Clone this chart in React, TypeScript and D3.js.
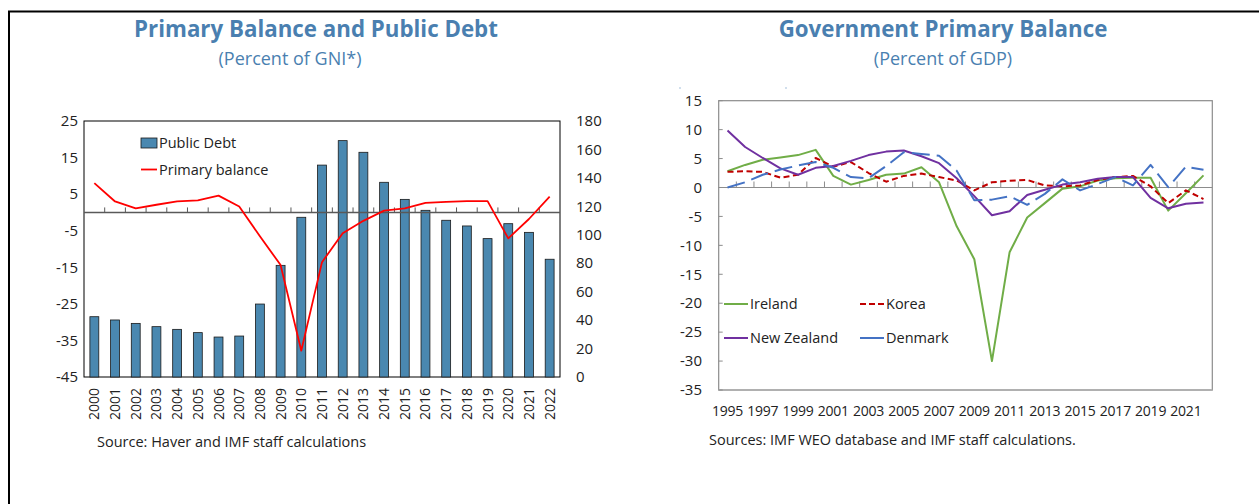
import React from "react";
import * as d3 from "d3";

const leftYears = ["2000","2001","2002","2003","2004","2005","2006","2007","2008","2009","2010","2011","2012","2013","2014","2015","2016","2017","2018","2019","2020","2021","2022"];
const publicDebt = [42.4, 40.1, 37.7, 35.4, 33.5, 31.2, 28.1, 28.8, 51.3, 78.5, 112.3, 149, 166.2, 158, 136.9, 124.9, 117.2, 110.2, 106.2, 97.3, 107.8, 101.7, 82.8];
const primaryBalance = [8.0, 3.0, 1.1, 2.1, 3.0, 3.3, 4.6, 1.6, -6.5, -14.4, -37.8, -13.6, -5.7, -2.3, 0.5, 1.1, 2.6, 2.9, 3.1, 3.1, -7.1, -1.8, 4.3];
const leftTicks = [25, 15, 5, -5, -15, -25, -35, -45];
const rightTicks = [180, 160, 140, 120, 100, 80, 60, 40, 20, 0];

const rightYears = ["1995","1996","1997","1998","1999","2000","2001","2002","2003","2004","2005","2006","2007","2008","2009","2010","2011","2012","2013","2014","2015","2016","2017","2018","2019","2020","2021","2022"];
const ireland = [2.8, 3.9, 4.8, 5.2, 5.6, 6.5, 2.0, 0.5, 1.3, 2.2, 2.4, 3.5, 0.9, -6.7, -12.4, -30.0, -11.2, -5.2, -2.7, -0.2, 0.2, 1.2, 1.6, 1.7, 1.7, -4.0, -1.0, 2.1];
const korea = [2.7, 2.8, 2.7, 1.7, 2.2, 5.1, 3.6, 4.4, 2.5, 1.0, 2.0, 2.4, 1.8, 1.2, -0.5, 0.9, 1.15, 1.3, 0.35, 0.2, 0.35, 1.3, 1.8, 2.0, 0.2, -2.7, -0.5, -2.0];
const newZealand = [9.85, 7.0, 5.1, 3.3, 2.2, 3.4, 3.7, 4.6, 5.6, 6.2, 6.4, 5.4, 4.2, 1.6, -1.5, -4.8, -4.1, -1.3, -0.4, 0.5, 0.9, 1.5, 1.8, 1.8, -1.8, -3.6, -2.8, -2.6];
const denmark = [0, 0.9, 2.2, 3.1, 3.8, 4.4, 3.4, 1.8, 1.6, 3.7, 6.1, 5.8, 5.5, 2.9, -2.2, -2.1, -1.5, -3.0, -1.1, 1.4, -0.5, 0.6, 1.8, 0.35, 3.9, 0.05, 3.6, 3.05];
const gdpTicks = [15, 10, 5, 0, -5, -10, -15, -20, -25, -30, -35];

const FONT = "'Open Sans', 'Noto Sans', sans-serif";
const TITLE_COLOR = "#4A7FB0";
const BAR_COLOR = "#4A88B0";

export default function App() {
  const L = { x0: 84, x1: 560, y0: 121, y1: 377 };
  const xL = d3.scaleBand().domain(leftYears).range([L.x0, L.x1]).paddingInner(0.57).paddingOuter(0.285);
  const xLc = (y: string) => (xL(y) as number) + xL.bandwidth() / 2;
  const xLbands = d3.scaleBand().domain(leftYears).range([L.x0, L.x1]);
  const yL = d3.scaleLinear().domain([-45, 25]).range([L.y1, L.y0]);
  const yR = d3.scaleLinear().domain([0, 180]).range([L.y1, L.y0]);
  const pbLine = d3.line<number>().x((_, i) => xLc(leftYears[i])).y((d) => yL(d));

  const R = { x0: 718.7, x1: 1212.3, y0: 100.7, y1: 390 };
  const xG = d3.scaleBand().domain(rightYears).range([R.x0, R.x1]);
  const xGc = (y: string) => (xG(y) as number) + xG.bandwidth() / 2;
  const yG = d3.scaleLinear().domain([-35, 15]).range([R.y1, R.y0]);
  const gLine = d3.line<number>().x((_, i) => xGc(rightYears[i])).y((d) => yG(d));

  const series = [
    { name: "Ireland", data: ireland, color: "#70AD47", dash: "none", legendDash: "none" },
    { name: "Korea", data: korea, color: "#C00000", dash: "6,3.5", legendDash: "6,3" },
    { name: "New Zealand", data: newZealand, color: "#7030A0", dash: "none", legendDash: "none" },
    { name: "Denmark", data: denmark, color: "#4472C4", dash: "18,7", legendDash: "none" },
  ];
  const legendPos = [
    { x: 724, y: 304 },
    { x: 860, y: 304 },
    { x: 724, y: 338 },
    { x: 860, y: 338 },
  ];

  return (
    <svg width={1259} height={504} style={{ position: "absolute", left: 0, top: 0, background: "#fff" }} fontFamily={FONT}>
      <rect x={0} y={0} width={1259} height={504} fill="#fff" />
      <rect x={9} y={11.5} width={1400} height={700} fill="none" stroke="#000" strokeWidth={2} />

      {/* ===== Left chart ===== */}
      <text x={316} y={37} textAnchor="middle" fontSize={22.3} fontWeight={700} fill={TITLE_COLOR}>Primary Balance and Public Debt</text>
      <text x={290} y={65} textAnchor="middle" fontSize={18} fill={TITLE_COLOR}>(Percent of GNI*)</text>

      <rect x={L.x0} y={L.y0} width={L.x1 - L.x0} height={L.y1 - L.y0} fill="none" stroke="#000" strokeWidth={1} />
      {leftYears.map((yr, i) => (
        <rect key={yr} x={xL(yr)} y={yR(publicDebt[i])} width={xL.bandwidth()} height={yR(0) - yR(publicDebt[i])} fill={BAR_COLOR} stroke="#1a1a1a" strokeWidth={0.8} />
      ))}
      <line x1={L.x0} x2={L.x1} y1={yL(0)} y2={yL(0)} stroke="#595959" strokeWidth={1.5} />
      {leftYears.slice(1).map((yr) => (
        <line key={"t" + yr} x1={xLbands(yr)} x2={xLbands(yr)} y1={yL(0)} y2={yL(0) - 5} stroke="#595959" strokeWidth={1} />
      ))}
      <path d={pbLine(primaryBalance) || ""} fill="none" stroke="#FF0000" strokeWidth={1.8} strokeLinejoin="round" />

      {leftTicks.map((t) => (
        <text key={"l" + t} x={78} y={yL(t)} dy="0.35em" textAnchor="end" fontSize={15} fill="#222">{t}</text>
      ))}
      {rightTicks.map((t) => (
        <text key={"r" + t} x={576} y={yR(t)} dy="0.35em" textAnchor="start" fontSize={15} fill="#222">{t}</text>
      ))}
      {leftYears.map((yr) => (
        <text key={"x" + yr} transform={`translate(${xLc(yr) + 5},${388}) rotate(-90)`} textAnchor="end" fontSize={14} fill="#222">{yr}</text>
      ))}

      <rect x={141} y={138} width={16} height={10} fill={BAR_COLOR} stroke="#1a1a1a" strokeWidth={0.8} />
      <text x={159} y={143} dy="0.35em" fontSize={14.5} fill="#222">Public Debt</text>
      <line x1={141} x2={157} y1={169.5} y2={169.5} stroke="#FF0000" strokeWidth={1.8} />
      <text x={159} y={169.5} dy="0.35em" fontSize={14.5} fill="#222">Primary balance</text>

      <text x={97} y={447} fontSize={14.5} fill="#222">Source: Haver and IMF staff calculations</text>

      {/* ===== Right chart ===== */}
      <text x={943} y={37} textAnchor="middle" fontSize={22.3} fontWeight={700} fill={TITLE_COLOR}>Government Primary Balance</text>
      <text x={943} y={65} textAnchor="middle" fontSize={18} fill={TITLE_COLOR}>(Percent of GDP)</text>
      <circle cx={680} cy={88} r={0.7} fill="#7fa6cc" />
      <circle cx={786} cy={88} r={0.7} fill="#7fa6cc" />

      <rect x={R.x0} y={R.y0} width={R.x1 - R.x0} height={R.y1 - R.y0} fill="none" stroke="#8c8c8c" strokeWidth={1.2} />
      <line x1={R.x0} x2={R.x1} y1={R.y1} y2={R.y1} stroke="#b0b0b0" strokeWidth={2} />
      {gdpTicks.map((t) => (
        <g key={"g" + t}>
          <line x1={R.x0} x2={R.x0 + 4} y1={yG(t)} y2={yG(t)} stroke="#8c8c8c" strokeWidth={1} />
          <text x={702} y={yG(t)} dy="0.35em" textAnchor="end" fontSize={15} fill="#222">{t}</text>
        </g>
      ))}
      <line x1={R.x0} x2={R.x1} y1={yG(0)} y2={yG(0)} stroke="#8c8c8c" strokeWidth={1.2} />
      {rightYears.slice(1).map((yr) => (
        <line key={"gt" + yr} x1={xG(yr)} x2={xG(yr)} y1={yG(0)} y2={yG(0) - 6} stroke="#8c8c8c" strokeWidth={1} />
      ))}
      {series.map((s) => (
        <path key={s.name} d={gLine(s.data) || ""} fill="none" stroke={s.color} strokeWidth={2} strokeDasharray={s.dash} strokeLinejoin="round" />
      ))}
      {rightYears.filter((_, i) => i % 2 === 0).map((yr) => (
        <text key={"gx" + yr} x={xGc(yr)} y={416} textAnchor="middle" fontSize={14} fill="#222" letterSpacing={-0.2}>{yr}</text>
      ))}
      {series.map((s, i) => (
        <g key={"lg" + s.name}>
          <line x1={legendPos[i].x} x2={legendPos[i].x + 24} y1={legendPos[i].y} y2={legendPos[i].y} stroke={s.color} strokeWidth={2} strokeDasharray={s.legendDash} />
          <text x={legendPos[i].x + 26} y={legendPos[i].y} dy="0.35em" fontSize={14.5} fill="#222">{s.name}</text>
        </g>
      ))}
      <text x={709} y={445} fontSize={14.5} fill="#222">Sources: IMF WEO database and IMF staff calculations.</text>
    </svg>
  );
}
